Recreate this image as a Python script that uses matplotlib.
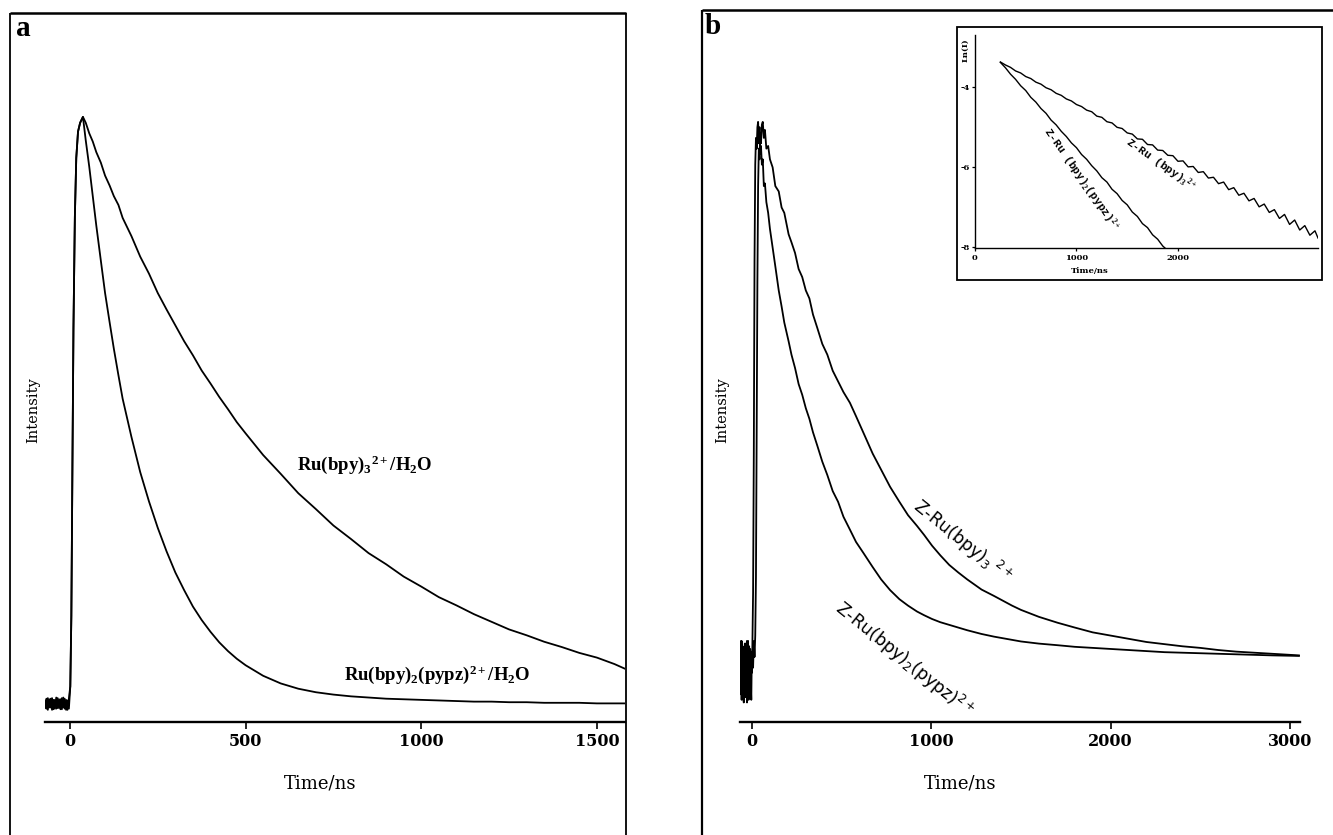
import matplotlib
matplotlib.use("Agg")
import matplotlib.pyplot as plt
from matplotlib.lines import Line2D
from matplotlib.patches import Rectangle

plt.rcParams['font.family'] = ['DejaVu Serif']
plt.rcParams['axes.unicode_minus'] = False
plt.rcParams['mathtext.fontset'] = 'custom'
plt.rcParams['mathtext.rm'] = 'Liberation Serif:bold'
plt.rcParams['mathtext.bf'] = 'Liberation Serif:bold'
plt.rcParams['mathtext.it'] = 'Liberation Serif:bold'

W, H = 1333, 835

# ---------------- data: panel a (Ru complexes in water) ----------------
a_time = [-71, -67, -63, -59, -55, -51, -47, -43, -39, -35, -31, -27, -23, -19, -15, -11, -7, -3,
          1, 4, 7, 10, 14, 18, 23, 29, 37,
          45, 55, 65, 75, 88, 100, 113, 125, 138, 150,
          175, 200, 225, 250, 275, 300, 325, 350, 375, 400, 425, 450, 475, 500,
          550, 600, 650, 700, 750, 800, 850, 900, 950, 1000, 1050, 1100, 1150, 1200,
          1250, 1300, 1350, 1400, 1450, 1500, 1550,
          1580]
a_bpy3 = [0.006, -0.008, 0.010, -0.006, 0.009, -0.010, 0.007, -0.008, 0.011, -0.007, 0.008, -0.009,
          0.010, -0.006, 0.009, -0.010, 0.006, -0.008,
          0.03, 0.15, 0.40, 0.64, 0.83, 0.93, 0.975, 0.99, 1.0,
          0.99, 0.972, 0.958, 0.94, 0.922, 0.90, 0.883, 0.865, 0.85, 0.828,
          0.797, 0.762, 0.733, 0.70, 0.672, 0.645, 0.618, 0.594, 0.568, 0.546, 0.523, 0.502, 0.48, 0.461,
          0.424, 0.392, 0.359, 0.332, 0.304, 0.281, 0.257, 0.238, 0.217, 0.200, 0.182, 0.168, 0.153, 0.140,
          0.127, 0.117, 0.106, 0.097, 0.087, 0.079, 0.068,
          0.060]
a_pypz = [-0.007, 0.009, -0.010, 0.008, -0.006, 0.010, -0.009, 0.007, -0.008, 0.010, -0.007, 0.008,
          -0.009, 0.011, -0.008, 0.007, -0.010, 0.009,
          0.03, 0.15, 0.40, 0.64, 0.83, 0.93, 0.975, 0.99, 1.0,
          0.96, 0.915, 0.865, 0.815, 0.755, 0.70, 0.65, 0.605, 0.56, 0.52,
          0.455, 0.395, 0.345, 0.30, 0.26, 0.224, 0.194, 0.166, 0.143, 0.123, 0.105, 0.09, 0.077, 0.066,
          0.048, 0.035, 0.026, 0.020, 0.016, 0.013, 0.011, 0.009, 0.008, 0.007, 0.006, 0.005, 0.004, 0.004,
          0.003, 0.003, 0.002, 0.002, 0.002, 0.001, 0.001,
          0.001]
a_ticks = [0, 500, 1000, 1500]

# ---------------- data: panel b (zeolite-entrapped complexes) ----------------
b_time = [-67, -64, -61, -58, -55, -52, -49, -46, -43, -40, -37, -34, -31, -28, -25, -22, -19, -16,
          -13, -10, -7, -4, -1,
          2, 6, 10, 14, 18, 22, 26, 30, 34, 38,
          42, 46, 50, 55, 60, 66, 72, 80, 90, 100,
          115, 130, 149, 165, 180, 204, 220, 240, 260, 280,
          300, 320, 340, 364, 392, 420, 450, 480, 510, 546,
          580, 620, 673, 720, 770, 822, 870, 920, 960, 1004,
          1050, 1100, 1150, 1200, 1280, 1350, 1400, 1450, 1500, 1600,
          1704, 1800, 1900, 2000, 2100, 2200, 2300, 2400, 2500, 2600,
          2700, 2800, 2900, 3050]
b_bpy3 = [-0.03, 0.02, -0.07, 0.03, -0.05, -0.01, -0.08, 0.01, -0.04, 0.025, -0.075, -0.02, 0.02, -0.085,
          -0.03, 0.03, -0.06, 0.0, -0.07, 0.015, -0.05, -0.08, 0.01,
          0.01, -0.02, 0.03, 0.0, 0.04, 0.15, 0.42, 0.70, 0.88, 0.95,
          0.93, 0.98, 0.96, 0.995, 1.0, 0.97, 0.985, 0.95, 0.955, 0.93,
          0.915, 0.88, 0.87, 0.84, 0.83, 0.79, 0.775, 0.755, 0.725, 0.71,
          0.685, 0.67, 0.64, 0.615, 0.585, 0.565, 0.535, 0.515, 0.495, 0.475,
          0.45, 0.42, 0.38, 0.35, 0.318, 0.29, 0.265, 0.245, 0.228, 0.208,
          0.19, 0.172, 0.158, 0.145, 0.126, 0.114, 0.105, 0.096, 0.088, 0.075,
          0.064, 0.055, 0.046, 0.04, 0.034, 0.028, 0.024, 0.02, 0.017, 0.013,
          0.01, 0.008, 0.006, 0.003]
b_pypz = [0.01, -0.06, 0.03, -0.08, -0.02, 0.02, -0.05, -0.085, 0.0, -0.04, 0.025, -0.07, -0.01, 0.03,
          -0.06, -0.02, -0.08, 0.02, -0.045, 0.01, -0.075, 0.0, -0.03,
          0.02, 0.12, 0.38, 0.74, 0.92, 0.97, 0.95, 0.99, 1.0, 0.96,
          0.99, 0.94, 0.955, 0.92, 0.93, 0.88, 0.885, 0.85, 0.83, 0.80,
          0.765, 0.73, 0.685, 0.655, 0.625, 0.59, 0.565, 0.54, 0.51, 0.49,
          0.465, 0.445, 0.42, 0.395, 0.365, 0.34, 0.31, 0.29, 0.262, 0.238,
          0.215, 0.195, 0.168, 0.145, 0.125, 0.108, 0.096, 0.085, 0.078, 0.071,
          0.065, 0.06, 0.055, 0.05, 0.043, 0.038, 0.035, 0.032, 0.029, 0.025,
          0.022, 0.019, 0.017, 0.015, 0.013, 0.011, 0.009, 0.008, 0.007, 0.006,
          0.005, 0.004, 0.003, 0.002]
b_ticks = [0, 1000, 2000, 3000]

# ---------------- data: inset (ln of intensity) ----------------
ins_t_bpy3 = [250, 300, 350, 400, 450, 500, 550, 600, 650, 700, 750, 800, 850, 900, 950, 1000,
              1050, 1100, 1150, 1200, 1250, 1300, 1350, 1400, 1450, 1500, 1550, 1600, 1650, 1700,
              1750, 1800, 1850, 1900, 1950, 2000, 2050, 2100, 2150, 2200, 2250, 2300, 2350, 2400,
              2450, 2500, 2550, 2600, 2650, 2700, 2750, 2800, 2850, 2900, 2950, 3000, 3050, 3100,
              3150, 3200, 3250, 3300, 3350, 3380]
ins_ln_bpy3 = [-3.375, -3.45, -3.51, -3.60, -3.65, -3.74, -3.79, -3.88, -3.93, -4.02, -4.07, -4.16,
               -4.21, -4.30, -4.35, -4.44, -4.49, -4.58, -4.62, -4.73, -4.76, -4.87, -4.90, -5.01,
               -5.04, -5.15, -5.18, -5.30, -5.31, -5.44, -5.45, -5.58, -5.59, -5.71, -5.72, -5.86,
               -5.85, -6.00, -5.99, -6.14, -6.12, -6.28, -6.26, -6.42, -6.38, -6.57, -6.52, -6.71,
               -6.66, -6.85, -6.79, -7.00, -6.93, -7.14, -7.07, -7.29, -7.19, -7.44, -7.33, -7.58,
               -7.47, -7.71, -7.60, -7.78]
ins_t_pypz = [250, 300, 350, 400, 450, 500, 550, 600, 650, 700, 750, 800, 850, 900, 950, 1000,
              1050, 1100, 1150, 1200, 1250, 1300, 1350, 1400, 1450, 1500, 1550, 1600, 1650, 1700,
              1750, 1800, 1850, 1872]
ins_ln_pypz = [-3.385, -3.52, -3.68, -3.81, -3.97, -4.09, -4.26, -4.38, -4.54, -4.66, -4.83, -4.95,
               -5.11, -5.24, -5.40, -5.52, -5.69, -5.81, -5.97, -6.10, -6.27, -6.38, -6.56, -6.67,
               -6.84, -6.95, -7.13, -7.24, -7.42, -7.52, -7.70, -7.81, -7.98, -8.03]
ins_xticks = [0, 1000, 2000]
ins_yticks = [-4, -6, -8]

# ---------------- layout helpers (pixel boxes) ----------------
fig = plt.figure(figsize=(W / 100, H / 100), dpi=100)


def fx(px):
    return px / W


def fy(py):
    return 1 - py / H


def box(x0, y0, x1, y1):
    return [fx(x0), fy(y1), fx(x1) - fx(x0), fy(y0) - fy(y1)]


def fline(xs, ys, lw=1.3):
    fig.add_artist(Line2D([fx(v) for v in xs], [fy(v) for v in ys], transform=fig.transFigure,
                          color='black', lw=lw, solid_capstyle='butt'))


# panel frames
fline([10, 10], [13, 835], 1.3)
fline([10, 626], [13, 13], 1.8)
fline([626, 626], [13, 835], 1.3)
fline([702, 702], [10, 835], 1.6)
fline([702, 1333], [10, 10], 1.8)


def main_axes(bx, xlim, ylim, ticks):
    ax = fig.add_axes(box(*bx))
    ax.set_xlim(*xlim)
    ax.set_ylim(*ylim)
    for s in ['left', 'top', 'right']:
        ax.spines[s].set_visible(False)
    ax.spines['bottom'].set_linewidth(1.7)
    ax.set_yticks([])
    ax.set_xticks(ticks)
    ax.tick_params(axis='x', direction='out', length=5, width=1.2, pad=3, labelsize=11.5)
    for lab in ax.get_xticklabels():
        lab.set_fontweight('bold')
    ax.patch.set_visible(False)
    return ax


# ---------------- panel a ----------------
axa = main_axes((45, 40, 625, 722), (-71, 1580), (-0.0307, 1.131), a_ticks)
axa.plot(a_time, a_bpy3, color='black', lw=1.3)
axa.plot(a_time, a_pypz, color='black', lw=1.3)
axa.text(840, 0.407, r'Ru(bpy)$_3$$^{2+}$/H$_2$O', family='Liberation Serif', weight='bold',
         fontsize=13.5, ha='center', va='center', math_fontfamily='custom')
axa.text(1045, 0.049, r'Ru(bpy)$_2$(pypz)$^{2+}$/H$_2$O', family='Liberation Serif', weight='bold',
         fontsize=13.5, ha='center', va='center', math_fontfamily='custom')
fig.text(fx(23), fy(28), 'a', family='Liberation Serif', weight='bold', fontsize=21,
         ha='center', va='center')
fig.text(fx(33), fy(410), 'Intensity', rotation=90, ha='center', va='center', fontsize=10.5)
fig.text(fx(320), fy(783), 'Time/ns', ha='center', va='center', fontsize=13)

# ---------------- panel b ----------------
axb = main_axes((740, 40, 1300, 722), (-67, 3056), (-0.1215, 1.153), b_ticks)
axb.plot(b_time, b_bpy3, color='black', lw=1.3)
axb.plot(b_time, b_pypz, color='black', lw=1.3)
axb.text(1171, 0.215, r'Z-Ru(bpy)$_3$$^{\ 2+}$', family='DejaVu Sans', fontsize=12.5,
         rotation=-39, rotation_mode='anchor', ha='center', va='center', math_fontfamily='dejavusans')
axb.text(850, -0.005, r'Z-Ru(bpy)$_2$(pypz)$^{2+}$', family='DejaVu Sans', fontsize=12.5,
         rotation=-39, rotation_mode='anchor', ha='center', va='center', math_fontfamily='dejavusans')
fig.text(fx(713), fy(27), 'b', family='Liberation Serif', weight='bold', fontsize=21,
         ha='center', va='center')
fig.text(fx(722), fy(410), 'Intensity', rotation=90, ha='center', va='center', fontsize=10.5)
fig.text(fx(960), fy(783), 'Time/ns', ha='center', va='center', fontsize=13)

# ---------------- inset ----------------
fig.add_artist(Rectangle((fx(957), fy(280)), fx(1322) - fx(957), fy(27) - fy(280),
                         transform=fig.transFigure, fill=False, lw=1.3, ec='black'))
axi = fig.add_axes(box(975, 35, 1318, 248))
axi.set_xlim(0, 3380)
axi.set_ylim(-8.03, -2.70)
for s in ['top', 'right']:
    axi.spines[s].set_visible(False)
for s in ['left', 'bottom']:
    axi.spines[s].set_linewidth(1.0)
axi.patch.set_visible(False)
axi.set_xticks(ins_xticks)
axi.set_yticks(ins_yticks)
axi.tick_params(length=2.5, width=0.9, pad=1.5, labelsize=6)
for lab in axi.get_xticklabels() + axi.get_yticklabels():
    lab.set_fontweight('bold')
axi.plot(ins_t_bpy3, ins_ln_bpy3, color='black', lw=1.0)
axi.plot(ins_t_pypz, ins_ln_pypz, color='black', lw=1.0)
axi.text(1823, -5.95, r'Z-Ru (bpy)$_3$$^{2+}$', family='Liberation Mono', weight='bold', fontsize=8,
         rotation=-35, rotation_mode='anchor', ha='center', va='center', math_fontfamily='custom')
axi.text(1040, -6.3, r'Z-Ru (bpy)$_2$(pypz)$^{2+}$', family='Liberation Mono', weight='bold',
         fontsize=8, rotation=-55, rotation_mode='anchor', ha='center', va='center',
         math_fontfamily='custom')
fig.text(fx(965), fy(50), 'Ln(I)', rotation=90, ha='center', va='center', fontsize=6, weight='bold')
fig.text(fx(1090), fy(271), 'Time/ns', ha='center', va='center', fontsize=6, weight='bold')

fig.savefig('out.png', dpi=100)
